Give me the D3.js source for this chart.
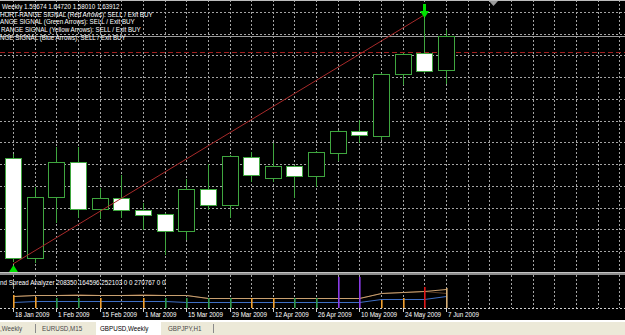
<!DOCTYPE html>
<html>
<head>
<meta charset="utf-8">
<title>GBPUSD,Weekly</title>
<script src="https://cdn.jsdelivr.net/npm/d3@7"></script>
<style>
  html, body { margin: 0; padding: 0; background: #000; overflow: hidden; }
  svg { display: block; }
  text { font-family: "Liberation Sans", Arial, sans-serif; font-size: 8px; }
</style>
</head>
<body>
<div id="chart1"></div>
<script>

// weekly bars, bar open time (Sunday)
var weeks  = ['2009-01-18','2009-01-25','2009-02-01','2009-02-08','2009-02-15','2009-02-22','2009-03-01',
              '2009-03-08','2009-03-15','2009-03-22','2009-03-29','2009-04-05','2009-04-12','2009-04-19',
              '2009-04-26','2009-05-03','2009-05-10','2009-05-17','2009-05-24','2009-05-31','2009-06-07'];
var opens  = [1.4876, 1.3629, 1.4390, 1.4826, 1.4240, 1.4378, 1.4228, 1.4178, 1.3966, 1.4490, 1.4290,
              1.4889, 1.4627, 1.4777, 1.4652, 1.4939, 1.5213, 1.5151, 1.5924, 1.6185, 1.59674];
var highs  = [1.4926, 1.4515, 1.5013, 1.5013, 1.4502, 1.4664, 1.4315, 1.4190, 1.4614, 1.4801, 1.4914,
              1.4951, 1.5063, 1.4789, 1.4964, 1.5225, 1.5350, 1.5936, 1.6185, 1.6622, 1.64720];
var lows   = [1.3579, 1.3567, 1.4066, 1.4128, 1.4116, 1.4128, 1.3979, 1.3667, 1.3854, 1.4228, 1.4128,
              1.4577, 1.4577, 1.4378, 1.4515, 1.4839, 1.5063, 1.5101, 1.5786, 1.5936, 1.58010];
var closes = [1.3629, 1.4390, 1.4826, 1.4240, 1.4378, 1.4228, 1.4166, 1.3966, 1.4490, 1.4290, 1.4901,
              1.4664, 1.4777, 1.4652, 1.4951, 1.5213, 1.5163, 1.5924, 1.6173, 1.5961, 1.63912];

// price grid levels (price scale itself is off screen)
var priceTicks = [1.3717, 1.3988, 1.4259, 1.4530, 1.4801, 1.5072, 1.5343, 1.5614, 1.5885, 1.6156, 1.6427, 1.6698];
var timeLabels = ['2009-01-18','2009-02-01','2009-02-15','2009-03-01','2009-03-15','2009-03-29',
                  '2009-04-12','2009-04-26','2009-05-10','2009-05-24','2009-06-07'];

// objects on the chart
var trendDates  = ['2009-01-18', '2009-05-31'];
var trendPrices = [1.3555, 1.6660];
var redLevel = 1.6198;
var arrowDates = ['2009-01-18', '2009-05-31'];
var arrowDirs  = ['up', 'down'];

var headerLines = [
  'Weekly  ' + [opens[20], highs[20], lows[20], closes[20]].map(function(v) { return v.toFixed(5); }).join(' '),
  'HORT-RANGE SIGNAL (Red Arrows): SELL / Exit BUY',
  'ANGE SIGNAL (Green Arrows): SELL / Exit BUY',
  'RANGE SIGNAL (Yellow Arrows): SELL / Exit BUY',
  'NGE SIGNAL (Blue Arrows): SELL / Exit BUY'
];

// spread analyzer sub window
var spreadHist = [176000, 149000, 135000, 135000, 135000, 0, 135000, 135000, 135000, 135000, 135000,
                  135000, 135000, 135000, 135000, 419000, 419000, 108000, 135000, 284000, 270767];
var histKind   = ['sell','sell','buy','buy','sell','none','sell','buy','buy','buy','buy',
                  'sell','sell','buy','buy','spike','spike','sell','sell','alert','current'];
var tanLine    = [162400, 175900, 175900, 175900, 175900, 175900, 175900, 175900, 175900, 139400, 131300,
                  131300, 131300, 131300, 131300, 131300, 131300, 203000, 209700, 230000, 252103];
var darkLine   = [162400, 175900, 175900, 183000, 175900, 175900, 183000, 175900, 175900, 139400, 131300,
                  131300, 131300, 131300, 131300, 131300, 131300, 203000, 209700, 236000, 208350];
var blueLine   = [85000, 98000, 98000, 98000, 98000, 98000, 98000, 98000, 81000, 81000, 81000,
                  81000, 81000, 81000, 81000, 81000, 81000, 121800, 121800, 121800, 164596];
var indicatorName = 'nd Spread Analyzer';
var indicatorValues = [208350, 164596, 252103, 0, 0, 270767, 0, 0];

var tabLabels = [',Weekly', 'EURUSD,M15', 'GBPUSD,Weekly', 'GBPJPY,H1'];
var activeTab = 2;


var width = 625, height = 335;
var mainBottom = 272, subTop = 275, subBottom = 308;
var squeezeK = 0.78;
var candleGreen = '#3fa63f';

var parseDay = d3.utcParse('%Y-%m-%d');
var fmtDay = d3.utcFormat('%-d %b %Y');

var x = d3.scaleUtc()
  .domain([parseDay(weeks[0]), parseDay(weeks[weeks.length - 1])])
  .range([13, 446]);

var y = d3.scaleLinear()
  .domain([1.34548, 1.68463])
  .range([mainBottom, 0]);

var yInd = d3.scaleLinear()
  .domain([0, 446000])
  .range([subBottom, subTop]);

var kindColor = d3.scaleOrdinal()
  .domain(['buy', 'sell', 'spike', 'alert', 'current', 'none'])
  .range(['#2f9a4f', '#f0a030', '#8a3ce6', '#e01818', '#d8b078', '#000000']);

function px(d) { return Math.round(x(d)); }

function squeeze(sel) {
  sel.each(function() {
    var w = this.getComputedTextLength();
    d3.select(this).attr('textLength', w * squeezeK).attr('lengthAdjust', 'spacingAndGlyphs');
  });
}

var bars = weeks.map(function(w, i) {
  return { date: parseDay(w), open: opens[i], high: highs[i], low: lows[i], close: closes[i],
           hist: spreadHist[i], kind: histKind[i], tan: tanLine[i], dark: darkLine[i], blue: blueLine[i] };
});

var svg = d3.select('#chart1').append('svg')
  .attr('width', width)
  .attr('height', height);

svg.append('rect').attr('width', width).attr('height', height).attr('fill', '#000');

var defs = svg.append('defs');
defs.append('clipPath').attr('id', 'clipMain')
  .append('rect').attr('x', 0).attr('y', 0).attr('width', width).attr('height', mainBottom);
defs.append('clipPath').attr('id', 'clipSub')
  .append('rect').attr('x', 0).attr('y', subTop).attr('width', width).attr('height', subBottom - subTop);

// ---- grid ----
var gridWeeks = d3.utcWeek.range(x.invert(-10), x.invert(width + 10));

var grid = svg.append('g').attr('class', 'grid')
  .attr('stroke', '#a4a4a4')
  .attr('stroke-dasharray', '2,2');

grid.selectAll('line.v')
  .data(gridWeeks)
  .enter().append('line')
  .attr('class', 'v')
  .attr('x1', function(d) { return px(d) + 0.5; })
  .attr('x2', function(d) { return px(d) + 0.5; })
  .attr('y1', 0)
  .attr('y2', mainBottom);

grid.selectAll('line.vs')
  .data(gridWeeks)
  .enter().append('line')
  .attr('class', 'vs')
  .attr('x1', function(d) { return px(d) + 0.5; })
  .attr('x2', function(d) { return px(d) + 0.5; })
  .attr('y1', subTop)
  .attr('y2', subBottom);

grid.selectAll('line.h')
  .data(priceTicks)
  .enter().append('line')
  .attr('class', 'h')
  .attr('x1', 0)
  .attr('x2', width)
  .attr('y1', function(d) { return Math.round(y(d)) + 0.5; })
  .attr('y2', function(d) { return Math.round(y(d)) + 0.5; });

// ---- main window ----
var main = svg.append('g').attr('clip-path', 'url(#clipMain)');

main.append('line')
  .attr('x1', 0).attr('x2', width)
  .attr('y1', Math.round(y(redLevel)) + 0.5)
  .attr('y2', Math.round(y(redLevel)) + 0.5)
  .attr('stroke', '#a01e1e')
  .attr('stroke-dasharray', '5,3');

main.append('line')
  .attr('x1', 0).attr('x2', width)
  .attr('y1', Math.round(y(closes[closes.length - 1])) + 0.5)
  .attr('y2', Math.round(y(closes[closes.length - 1])) + 0.5)
  .attr('stroke', '#9c9c9c');

main.selectAll('line.wick')
  .data(bars)
  .enter().append('line')
  .attr('class', 'wick')
  .attr('x1', function(d) { return px(d.date) + 0.5; })
  .attr('x2', function(d) { return px(d.date) + 0.5; })
  .attr('y1', function(d) { return Math.round(y(d.high)); })
  .attr('y2', function(d) { return Math.round(y(d.low)); })
  .attr('stroke', candleGreen);

main.selectAll('rect.body')
  .data(bars)
  .enter().append('rect')
  .attr('class', 'body')
  .attr('x', function(d) { return px(d.date) - 7.5; })
  .attr('width', 16)
  .attr('y', function(d) { return Math.round(y(Math.max(d.open, d.close))) + 0.5; })
  .attr('height', function(d) {
    return Math.max(1, Math.round(y(Math.min(d.open, d.close))) - Math.round(y(Math.max(d.open, d.close))));
  })
  .attr('fill', function(d) { return d.close < d.open ? '#ffffff' : '#000000'; })
  .attr('stroke', candleGreen);

main.append('line')
  .attr('x1', x(parseDay(trendDates[0])))
  .attr('y1', y(trendPrices[0]))
  .attr('x2', x(parseDay(trendDates[1])))
  .attr('y2', y(trendPrices[1]))
  .attr('stroke', '#a82a2a')
  .attr('stroke-width', 1);

// signal arrows
var arrowPath = 'M0,0 L4.5,7 L1.5,7 L1.5,14 L-1.5,14 L-1.5,7 L-4.5,7 Z';
main.selectAll('path.arrow')
  .data(arrowDates.map(function(d, i) { return { date: parseDay(d), dir: arrowDirs[i], bar: bars[weeks.indexOf(d)] }; }))
  .enter().append('path')
  .attr('class', 'arrow')
  .attr('d', arrowPath)
  .attr('fill', '#00e000')
  .attr('transform', function(d) {
    var cx = px(d.date) + 0.5;
    if (d.dir === 'up') return 'translate(' + cx + ',' + (y(d.bar.low) + 3) + ')';
    return 'translate(' + cx + ',' + (y(d.bar.high)) + ') scale(1,-1)';
  });

// top border and chart shift marker
svg.append('line').attr('x1', 0).attr('x2', width).attr('y1', 0.5).attr('y2', 0.5).attr('stroke', '#bdbdbd');
svg.append('path').attr('d', 'M489,1 L498,1 L493.5,6 Z').attr('fill', '#9a9a9a');

// header text
svg.selectAll('text.head')
  .data(headerLines)
  .enter().append('text')
  .attr('class', 'head')
  .attr('x', function(d, i) { return i === 0 ? 2 : (i === 3 ? 1 : 0); })
  .attr('y', function(d, i) { return 9 + i * 7.7; })
  .attr('fill', '#ffffff')
  .text(function(d) { return d; })
  .call(squeeze);

// window separator
svg.append('rect').attr('x', 0).attr('y', mainBottom).attr('width', width).attr('height', 3).attr('fill', '#8c8c8c');
svg.append('line').attr('x1', 0).attr('x2', width).attr('y1', mainBottom + 0.5).attr('y2', mainBottom + 0.5).attr('stroke', '#c4c4c4');

// ---- spread analyzer ----
var sub = svg.append('g').attr('clip-path', 'url(#clipSub)');

var lineGen = function(key) {
  return d3.line()
    .x(function(d) { return px(d.date) + 0.5; })
    .y(function(d) { return Math.round(yInd(d[key])) + 0.5; });
};

sub.append('path').datum(bars).attr('d', lineGen('dark')).attr('fill', 'none').attr('stroke', '#5e4028');
sub.append('path').datum(bars).attr('d', lineGen('tan')).attr('fill', 'none').attr('stroke', '#c8a070');
sub.append('path').datum(bars).attr('d', lineGen('blue')).attr('fill', 'none').attr('stroke', '#3f6fc4');

sub.selectAll('rect.hist')
  .data(bars.filter(function(d) { return d.hist > 0; }))
  .enter().append('rect')
  .attr('class', 'hist')
  .attr('x', function(d) { return px(d.date); })
  .attr('width', 1.6)
  .attr('y', function(d) { return yInd(d.hist); })
  .attr('height', function(d) { return yInd(0) - yInd(d.hist); })
  .attr('fill', function(d) { return kindColor(d.kind); });

svg.append('text')
  .attr('x', 0)
  .attr('y', 285)
  .attr('fill', '#ffffff')
  .text(indicatorName + ' ' + indicatorValues.join(' '))
  .call(squeeze);

// bottom border of the chart
svg.append('line').attr('x1', 0).attr('x2', width).attr('y1', subBottom + 0.5).attr('y2', subBottom + 0.5)
  .attr('stroke', '#d0d0d0').attr('stroke-dasharray', '2,2');

// ---- time axis ----
var timeAxis = svg.append('g').attr('class', 'time');
var labelDates = timeLabels.map(parseDay);

timeAxis.selectAll('line')
  .data(labelDates)
  .enter().append('line')
  .attr('x1', function(d) { return px(d) + 0.5; })
  .attr('x2', function(d) { return px(d) + 0.5; })
  .attr('y1', subBottom)
  .attr('y2', subBottom + 4)
  .attr('stroke', '#d0d0d0');

timeAxis.selectAll('text')
  .data(labelDates)
  .enter().append('text')
  .attr('x', function(d) { return px(d) + 2; })
  .attr('y', 317)
  .attr('fill', '#ffffff')
  .text(function(d) { return fmtDay(d); })
  .call(squeeze);

// ---- tab bar ----
var tabX = [0, 42, 100, 168];
var tabs = svg.append('g').attr('class', 'tabs');
tabs.append('rect').attr('x', 0).attr('y', 320).attr('width', width).attr('height', 2).attr('fill', '#ffffff');
tabs.append('rect').attr('x', 0).attr('y', 322).attr('width', width).attr('height', 13).attr('fill', '#ece9d8');
tabs.append('rect').attr('x', 96).attr('y', 320).attr('width', 65).attr('height', 15).attr('fill', '#ffffff');
[35, 213].forEach(function(sx) {
  tabs.append('line').attr('x1', sx + 0.5).attr('x2', sx + 0.5).attr('y1', 324).attr('y2', 333).attr('stroke', '#8a8a8a');
});
tabs.selectAll('text')
  .data(tabLabels)
  .enter().append('text')
  .attr('x', function(d, i) { return tabX[i]; })
  .attr('y', 331)
  .attr('fill', function(d, i) { return i === activeTab ? '#000000' : '#4a4a4a'; })
  .text(function(d) { return d; })
  .call(squeeze);

</script>
</body>
</html>
